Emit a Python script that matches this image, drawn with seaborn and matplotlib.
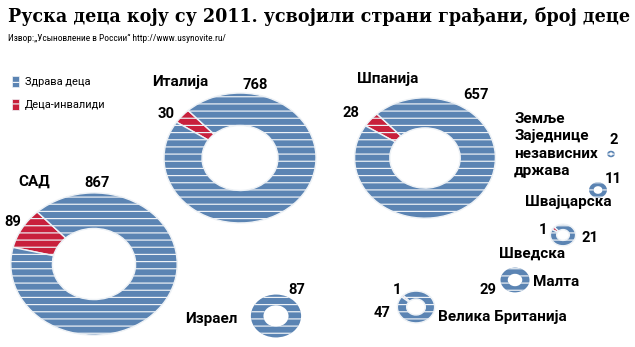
import matplotlib
matplotlib.use("Agg")
import matplotlib.pyplot as plt
from matplotlib import transforms as mtransforms
from matplotlib import font_manager
from matplotlib.patches import Patch
import seaborn as sns

# ---- data -------------------------------------------------------------
countries = ["САД", "Италија", "Шпанија", "Израел",
             "Земље Заједнице независних држава", "Швајцарска",
             "Шведска", "Малта", "Велика Британија"]
healthy = [867, 768, 657, 87, 2, 11, 21, 29, 47]
disabled = [89, 30, 28, 0, 0, 0, 1, 0, 1]
legend_labels = ["Здрава деца", "Деца-инвалиди"]
title = "Руска деца коју су 2011. усвојили страни грађани, број деце"
source = "Извор:„Усыновление в России“ http://www.usynovite.ru/"

# ---- layout (pixels, y measured from the top) -------------------------
W, H, DPI = 635, 347, 86
SX = 1.17            # horizontal stretch of the rings
K = 2.3              # ring radius per sqrt(children)
centers = [(94, 264), (240, 158), (425, 158), (276, 316), (611, 154),
           (598, 190), (563, 235), (515, 280), (416, 307)]
# name: list of (x, baseline) lines; numbers: (x_centre, baseline)
name_pos = [[(18, 186)], [(152, 86)], [(357, 83)], [(185, 323)],
            [(514, 123), (514, 140.5), (514, 158), (514, 175.5)],
            [(525, 206)], [(499, 258)], [(533, 286)], [(438, 321)]]
healthy_pos = [(97, 187), (255.5, 89), (475.5, 99), (297, 294), (614, 144),
               (613.5, 183), (589.5, 242), (488, 294), (382, 317)]
disabled_pos = [(12.5, 226), (166, 118), (350.5, 117), None, None,
                None, (543.5, 234), None, (397.5, 294)]

BLUE = "#5b84b3"
RED = "#c8203c"
STRIPE = "#eef2f6"

sns.set_theme(style="white")
plt.rcParams["hatch.linewidth"] = 1.0
plt.rcParams["text.color"] = "black"
plt.rcParams["font.family"] = ["Roboto", "DejaVu Sans"]

available = {f.name for f in font_manager.fontManager.ttflist}
narrow = next((n for n in ["Liberation Sans Narrow", "DejaVu Sans Condensed",
                           "Roboto Condensed"] if n in available), None)

fig = plt.figure(figsize=(W / DPI, H / DPI), dpi=DPI)
ax = fig.add_axes([0, 0, 1, 1])

for total_h, total_d, (cx, cy) in zip(healthy, disabled, centers):
    r = K * (total_h + total_d) ** 0.5
    vals = [total_d, total_h] if total_d else [total_h]
    cols = [RED, BLUE] if total_d else [BLUE]
    ax.pie(vals, colors=cols, startangle=133, counterclock=True, radius=r,
           center=(cx / SX, H - cy),
           wedgeprops=dict(width=r * 0.5, edgecolor=STRIPE,
                           linewidth=1.2 if total_d else 0.0, hatch="--"))

ax.set_aspect("auto")
ax.set_xlim(0, W / SX)
ax.set_ylim(0, H)
ax.axis("off")

px = mtransforms.Affine2D().scale(1 / W, -1 / H).translate(0, 1) + fig.transFigure

def put(x, y, s, **kw):
    fig.text(x, y, s, transform=px, va="baseline", color="black", **kw)

put(8, 22, title, family=["DejaVu Serif"], fontweight="bold", fontsize=14.7)
if narrow:
    put(8, 41, source, family=[narrow, "DejaVu Sans"], fontsize=7.8)
else:
    put(8, 41, source, family=["Roboto", "DejaVu Sans"], fontsize=7.0)

label_kw = dict(fontweight="bold", fontsize=12.8)
for name, lines in zip(countries, name_pos):
    parts = [name] if len(lines) == 1 else ["Земље", "Заједнице", "независних", "држава"]
    for part, (x, y) in zip(parts, lines):
        put(x, y, part, ha="left", **label_kw)
num_kw = dict(fontweight="bold", fontsize=12.3)
for v, pos in zip(healthy, healthy_pos):
    put(pos[0], pos[1], str(v), ha="center", **num_kw)
for v, pos in zip(disabled, disabled_pos):
    if v and pos:
        put(pos[0], pos[1], str(v), ha="center", **num_kw)

handles = [Patch(facecolor=BLUE, edgecolor=STRIPE, hatch="--", linewidth=0.6),
           Patch(facecolor=RED, edgecolor=STRIPE, hatch="--", linewidth=0.6)]
fig.legend(handles, legend_labels, loc="upper left", bbox_to_anchor=(12, 76),
           bbox_transform=px, frameon=False, fontsize=9.2, borderpad=0,
           borderaxespad=0, handlelength=0.65, handleheight=1.2,
           handletextpad=0.5, labelspacing=1.05, labelcolor="black")

fig.savefig("out.png", dpi=DPI, facecolor="white")
